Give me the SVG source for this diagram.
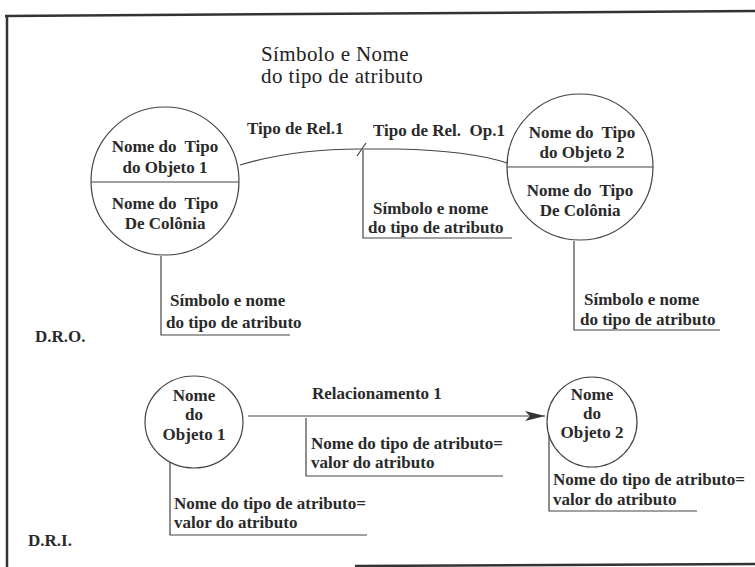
<svg xmlns="http://www.w3.org/2000/svg" width="755" height="567" viewBox="0 0 755 567">
  <defs>
    <style>
      .frame { fill: none; stroke: #333; stroke-width: 2.5; }
      .shape { fill: #fff; stroke: #444; stroke-width: 1.2; }
      .line { fill: none; stroke: #444; stroke-width: 1.2; }
      .t { font-family: "Liberation Serif", "Times New Roman", serif; font-size: 17px; font-weight: bold; fill: #2a2a2a; white-space: pre; }
      .c { text-anchor: middle; }
      .title { font-family: "Liberation Serif", "Times New Roman", serif; font-size: 21px; letter-spacing: 0.4px; fill: #222; }
    </style>
    <marker id="arrow" viewBox="0 0 20 10" refX="20" refY="5" markerWidth="20" markerHeight="10" markerUnits="userSpaceOnUse" orient="auto">
      <path d="M0,0 L20,5 L0,10 L5,5 Z" fill="#333"/>
    </marker>
  </defs>

  <rect width="755" height="567" fill="#fff"/>

  <!-- page frame -->
  <g id="frame">
    <path class="frame" d="M5,16 L755,11"/>
    <path class="frame" d="M7,15 L7,567"/>
    <path class="frame" d="M355,566 L755,564"/>
  </g>

  <!-- heading -->
  <g id="heading">
    <text class="title" x="261" y="61">Símbolo e Nome</text>
    <text class="title" x="261" y="83">do tipo de atributo</text>
  </g>

  <text class="t" x="35" y="342">D.R.O.</text>
  <text class="t" x="28" y="546">D.R.I.</text>

  <!-- connectors -->
  <g id="connectors">
    <!-- D.R.O. relationship -->
    <path class="line" d="M240,165 C280,153 320,149 360,149 L397,149 C445,150 480,154 507,163"/>
    <path class="line" d="M357,156 L366,143"/>
    <!-- attribute callouts (D.R.O.) -->
    <path class="line" d="M161,256 L161,335 L290,335"/>
    <path class="line" d="M363,150 L363,238 L512,238"/>
    <path class="line" d="M574,241 L574,330 L720,330"/>
    <!-- D.R.I. relationship -->
    <path class="line" d="M248,416 L545,416" marker-end="url(#arrow)"/>
    <!-- attribute callouts (D.R.I.) -->
    <path class="line" d="M306,418 L306,476 L503,476"/>
    <path class="line" d="M170,454 L170,535 L367,535"/>
    <path class="line" d="M549,435 L549,511 L697,511"/>
  </g>

  <!-- D.R.O. object type 1 -->
  <g id="tipo-objeto-1">
    <circle class="shape" cx="165" cy="181" r="74"/>
    <path class="line" d="M91,182 L239,182"/>
    <text class="t c" x="165" y="152" xml:space="preserve">Nome do  Tipo</text>
    <text class="t c" x="165" y="173">do Objeto 1</text>
    <text class="t c" x="165" y="209" xml:space="preserve">Nome do  Tipo</text>
    <text class="t c" x="165" y="229">De Colônia</text>
  </g>

  <!-- D.R.O. object type 2 -->
  <g id="tipo-objeto-2">
    <circle class="shape" cx="580" cy="167" r="73"/>
    <path class="line" d="M507,167 L653,167"/>
    <text class="t c" x="582" y="138" xml:space="preserve">Nome do  Tipo</text>
    <text class="t c" x="582" y="158">do Objeto 2</text>
    <text class="t c" x="580" y="196" xml:space="preserve">Nome do  Tipo</text>
    <text class="t c" x="580" y="216">De Colônia</text>
  </g>

  <!-- D.R.O. labels -->
  <g id="rotulos-dro">
    <text class="t" x="247" y="134">Tipo de Rel.1</text>
    <text class="t" x="373" y="136" xml:space="preserve">Tipo de Rel.  Op.1</text>
    <text class="t" x="170" y="306">Símbolo e nome</text>
    <text class="t" x="166" y="328">do tipo de atributo</text>
    <text class="t" x="373" y="214">Símbolo e nome</text>
    <text class="t" x="368" y="233">do tipo de atributo</text>
    <text class="t" x="584" y="305">Símbolo e nome</text>
    <text class="t" x="580" y="325">do tipo de atributo</text>
  </g>

  <!-- D.R.I. object 1 -->
  <g id="objeto-1">
    <ellipse class="shape" cx="194" cy="422" rx="49" ry="46"/>
    <text class="t c" x="194" y="401">Nome</text>
    <text class="t c" x="194" y="420">do</text>
    <text class="t c" x="194" y="440">Objeto 1</text>
  </g>

  <!-- D.R.I. object 2 -->
  <g id="objeto-2">
    <circle class="shape" cx="592" cy="422" r="45"/>
    <text class="t c" x="592" y="400">Nome</text>
    <text class="t c" x="592" y="419">do</text>
    <text class="t c" x="592" y="438">Objeto 2</text>
  </g>

  <!-- D.R.I. labels -->
  <g id="rotulos-dri">
    <text class="t" x="312" y="399">Relacionamento 1</text>
    <text class="t" x="311" y="449">Nome do tipo de atributo=</text>
    <text class="t" x="311" y="468">valor do atributo</text>
    <text class="t" x="174" y="509">Nome do tipo de atributo=</text>
    <text class="t" x="174" y="528">valor do atributo</text>
    <text class="t" x="553" y="485">Nome do tipo de atributo=</text>
    <text class="t" x="553" y="505">valor do atributo</text>
  </g>
</svg>
